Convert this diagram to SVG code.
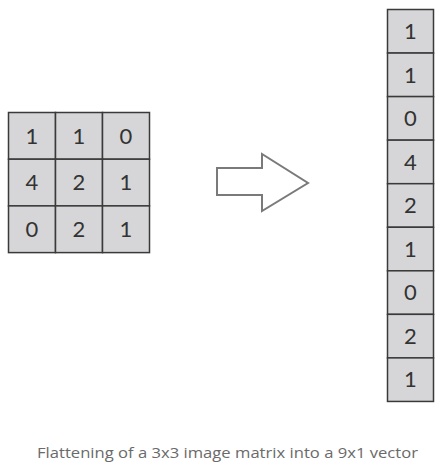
<svg xmlns="http://www.w3.org/2000/svg" width="443" height="472" viewBox="0 0 443 472">
<style>
.cell{fill:#d6d6d8;stroke:#3a3a3a;stroke-width:1.5}
.num{font-family:Lato,"Open Sans",sans-serif;font-size:22px;fill:#333;text-anchor:middle}
.cap{font-family:"Open Sans","Noto Sans",sans-serif;font-size:15px;fill:#6a6a6a}
</style>
<rect width="443" height="472" fill="#fff"/>
<g id="matrix">
<rect class="cell" x="8.5" y="112.5" width="47" height="46.7"/>
<rect class="cell" x="55.5" y="112.5" width="47" height="46.7"/>
<rect class="cell" x="102.5" y="112.5" width="47" height="46.7"/>
<rect class="cell" x="8.5" y="159.2" width="47" height="46.7"/>
<rect class="cell" x="55.5" y="159.2" width="47" height="46.7"/>
<rect class="cell" x="102.5" y="159.2" width="47" height="46.7"/>
<rect class="cell" x="8.5" y="205.9" width="47" height="46.7"/>
<rect class="cell" x="55.5" y="205.9" width="47" height="46.7"/>
<rect class="cell" x="102.5" y="205.9" width="47" height="46.7"/>
<text class="num" x="32" y="143.5">1</text>
<text class="num" x="79" y="143.5">1</text>
<text class="num" x="126" y="143.5">0</text>
<text class="num" x="32" y="190">4</text>
<text class="num" x="79" y="190">2</text>
<text class="num" x="126" y="190">1</text>
<text class="num" x="32" y="237">0</text>
<text class="num" x="79" y="237">2</text>
<text class="num" x="126" y="237">1</text>
</g>
<g id="arrow">
<polygon points="217,168 262,168 262,154 308,183 262,211 262,195 217,195" fill="#fff" stroke="#7a7a7a" stroke-width="2"/>
</g>
<g id="vector">
<rect class="cell" x="387.5" y="9.5" width="46" height="43.55"/>
<rect class="cell" x="387.5" y="53.05" width="46" height="43.55"/>
<rect class="cell" x="387.5" y="96.6" width="46" height="43.55"/>
<rect class="cell" x="387.5" y="140.15" width="46" height="43.55"/>
<rect class="cell" x="387.5" y="183.7" width="46" height="43.55"/>
<rect class="cell" x="387.5" y="227.25" width="46" height="43.55"/>
<rect class="cell" x="387.5" y="270.8" width="46" height="43.55"/>
<rect class="cell" x="387.5" y="314.35" width="46" height="43.55"/>
<rect class="cell" x="387.5" y="357.9" width="46" height="43.55"/>
<text class="num" x="410.5" y="39">1</text>
<text class="num" x="410.5" y="82.5">1</text>
<text class="num" x="410.5" y="126">0</text>
<text class="num" x="410.5" y="169.5">4</text>
<text class="num" x="410.5" y="213">2</text>
<text class="num" x="410.5" y="256.5">1</text>
<text class="num" x="410.5" y="300">0</text>
<text class="num" x="410.5" y="343.5">2</text>
<text class="num" x="410.5" y="387">1</text>
</g>
<text class="cap" x="37" y="458" textLength="381" lengthAdjust="spacingAndGlyphs">Flattening of a 3x3 image matrix into a 9x1 vector</text>
</svg>
